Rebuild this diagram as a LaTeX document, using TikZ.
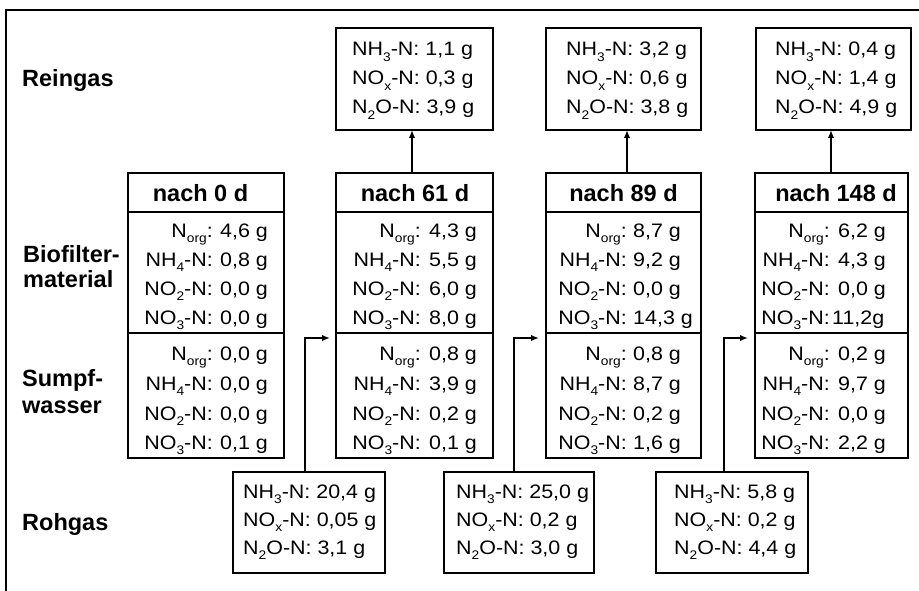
\documentclass[tikz,border=0pt]{standalone}
\usepackage{fontspec}
\setmainfont{Liberation Sans}
\newfontfamily\dfont[FakeStretch=1.1]{Liberation Sans}
\usetikzlibrary{arrows.meta,calc}

% lowered small index, e.g. NH_3, N_org
\newcommand\subx[1]{\raisebox{-0.26em}{\fontsize{12.5}{12.5}\selectfont #1}}

\tikzset{
  frame/.style={line width=1.2pt},
  cell/.style={draw, line width=1.4pt, inner sep=0pt, outer sep=0pt, anchor=north west},
  dat/.style={font=\dfont\fontsize{19.5}{23}\selectfont, inner sep=0pt},
  ttl/.style={font=\bfseries\fontsize{23.5}{26}\selectfont, inner sep=0pt},
  arr/.style={line width=1.8pt, -{Latex[length=8pt,width=6.5pt]}},
}

% empty box: name, x, y (top left), width, height
\newcommand\cellbox[5]{\node[cell, minimum width=#4pt, minimum height=#5pt] (#1) at (#2,#3) {};}
% row aligned on the colon: name, colon x, value x, baseline, label, value
\newcommand\rw[6]{%
  \node[dat, anchor=base east] (#1a) at (#2,#4) {#5};
  \node[dat, anchor=base west] (#1b) at (#3,#4) {#6};}
% left aligned row: name, x, baseline, text
\newcommand\gl[4]{\node[dat, anchor=base west] (#1) at (#2,#3) {#4};}

\begin{document}
\begin{tikzpicture}[x=1pt,y=-1pt]
\useasboundingbox (0,0) rectangle (919,591);
\draw[frame] (6,591) -- (6,10) -- (919,10);

% row labels
\node[ttl, anchor=base west] (lrein) at (22,87) {Reingas};
\node[ttl, anchor=base west] (lbioa) at (23,262) {Biofilter-};
\node[ttl, anchor=base west] (lbiob) at (23,287) {material};
\node[ttl, anchor=base west] (lsuma) at (22,386) {Sumpf-};
\node[ttl, anchor=base west] (lsumb) at (22,413) {wasser};
\node[ttl, anchor=base west] (lroh) at (22,530) {Rohgas};

% ---------- Reingas ----------
\cellbox{r61}{336}{28}{157}{102}
\gl{r61a}{352}{56}{NH\subx{3}-N: 1,1 g}
\gl{r61b}{352}{85}{NO\subx{x}-N: 0,3 g}
\gl{r61c}{352}{114}{N\subx{2}O-N: 3,9 g}

\cellbox{r89}{546}{28}{155}{102}
\gl{r89a}{566}{56}{NH\subx{3}-N: 3,2 g}
\gl{r89b}{566}{85}{NO\subx{x}-N: 0,6 g}
\gl{r89c}{566}{114}{N\subx{2}O-N: 3,8 g}

\cellbox{r148}{756}{28}{155}{102}
\gl{r148a}{775}{56}{NH\subx{3}-N: 0,4 g}
\gl{r148b}{775}{85}{NO\subx{x}-N: 1,4 g}
\gl{r148c}{775}{114}{N\subx{2}O-N: 4,9 g}

% ---------- nach 0 d ----------
\cellbox{h0}{128}{173}{156}{39}
\cellbox{b0}{128}{212}{156}{121}
\cellbox{s0}{128}{333}{156}{125}
\node[ttl, anchor=base] (t0) at (200.5,202) {nach 0 d};
\rw{b0r1}{213}{220}{237}{N\subx{org}:}{4,6 g}
\rw{b0r2}{213}{220}{266}{NH\subx{4}-N:}{0,8 g}
\rw{b0r3}{213}{220}{295}{NO\subx{2}-N:}{0,0 g}
\rw{b0r4}{213}{220}{324}{NO\subx{3}-N:}{0,0 g}
\rw{s0r1}{213}{220}{360}{N\subx{org}:}{0,0 g}
\rw{s0r2}{213}{220}{390}{NH\subx{4}-N:}{0,0 g}
\rw{s0r3}{213}{220}{420}{NO\subx{2}-N:}{0,0 g}
\rw{s0r4}{213}{220}{449}{NO\subx{3}-N:}{0,1 g}

% ---------- nach 61 d ----------
\cellbox{h61}{336}{173}{157}{39}
\cellbox{b61}{336}{212}{157}{121}
\cellbox{s61}{336}{333}{157}{125}
\node[ttl, anchor=base] (t61) at (415,202) {nach 61 d};
\rw{b61r1}{421}{429}{237}{N\subx{org}:}{4,3 g}
\rw{b61r2}{421}{429}{266}{NH\subx{4}-N:}{5,5 g}
\rw{b61r3}{421}{429}{295}{NO\subx{2}-N:}{6,0 g}
\rw{b61r4}{421}{429}{324}{NO\subx{3}-N:}{8,0 g}
\rw{s61r1}{421}{429}{360}{N\subx{org}:}{0,8 g}
\rw{s61r2}{421}{429}{390}{NH\subx{4}-N:}{3,9 g}
\rw{s61r3}{421}{429}{420}{NO\subx{2}-N:}{0,2 g}
\rw{s61r4}{421}{429}{449}{NO\subx{3}-N:}{0,1 g}

% ---------- nach 89 d ----------
\cellbox{h89}{546}{173}{155}{39}
\cellbox{b89}{546}{212}{155}{121}
\cellbox{s89}{546}{333}{155}{125}
\node[ttl, anchor=base] (t89) at (623.5,202) {nach 89 d};
\rw{b89r1}{627}{633}{237}{N\subx{org}:}{8,7 g}
\rw{b89r2}{627}{633}{266}{NH\subx{4}-N:}{9,2 g}
\rw{b89r3}{627}{633}{295}{NO\subx{2}-N:}{0,0 g}
\rw{b89r4}{627}{633}{324}{NO\subx{3}-N:}{14,3 g}
\rw{s89r1}{627}{633}{360}{N\subx{org}:}{0,8 g}
\rw{s89r2}{627}{633}{390}{NH\subx{4}-N:}{8,7 g}
\rw{s89r3}{627}{633}{420}{NO\subx{2}-N:}{0,2 g}
\rw{s89r4}{627}{633}{449}{NO\subx{3}-N:}{1,6 g}

% ---------- nach 148 d ----------
\cellbox{h148}{755}{173}{153}{39}
\cellbox{b148}{755}{212}{153}{121}
\cellbox{s148}{755}{333}{153}{125}
\node[ttl, anchor=base] (t148) at (836,202) {nach 148 d};
\rw{b148r1}{830}{838}{237}{N\subx{org}:}{6,2 g}
\rw{b148r2}{830}{838}{266}{NH\subx{4}-N:}{4,3 g}
\rw{b148r3}{830}{838}{295}{NO\subx{2}-N:}{0,0 g}
\rw{b148r4}{830}{832}{324}{NO\subx{3}-N:}{11,2g}
\rw{s148r1}{830}{838}{360}{N\subx{org}:}{0,2 g}
\rw{s148r2}{830}{838}{390}{NH\subx{4}-N:}{9,7 g}
\rw{s148r3}{830}{838}{420}{NO\subx{2}-N:}{0,0 g}
\rw{s148r4}{830}{838}{449}{NO\subx{3}-N:}{2,2 g}

% ---------- Rohgas ----------
\cellbox{g61}{233}{472}{152}{101}
\gl{g61a}{243}{498}{NH\subx{3}-N: 20,4 g}
\gl{g61b}{243}{526}{NO\subx{x}-N: 0,05 g}
\gl{g61c}{243}{554}{N\subx{2}O-N: 3,1 g}

\cellbox{g89}{444}{472}{150}{101}
\gl{g89a}{456}{498}{NH\subx{3}-N: 25,0 g}
\gl{g89b}{456}{526}{NO\subx{x}-N: 0,2 g}
\gl{g89c}{456}{554}{N\subx{2}O-N: 3,0 g}

\cellbox{g148}{656}{472}{152}{101}
\gl{g148a}{674}{498}{NH\subx{3}-N: 5,8 g}
\gl{g148b}{674}{526}{NO\subx{x}-N: 0,2 g}
\gl{g148c}{674}{554}{N\subx{2}O-N: 4,4 g}

% ---------- flows ----------
\draw[arr] ($(h61.north)+(-2.5,0)$) -- ($(r61.south)+(-2.5,0)$);
\draw[arr] ($(h89.north)+(3.5,0)$) -- ($(r89.south)+(3.5,0)$);
\draw[arr] ($(h148.north)+(-0.5,0)$) -- ($(r148.south)+(-2.5,0)$);

\draw[arr] ($(g61.north)+(-4,0)$) |- ($(s61.north west)+(-6,5)$);
\draw[arr] ($(g89.north)+(-5,0)$) |- ($(s89.north west)+(-7,5)$);
\draw[arr] ($(g148.north)+(-8,0)$) |- ($(s148.north west)+(-7,5)$);
\end{tikzpicture}
\end{document}
